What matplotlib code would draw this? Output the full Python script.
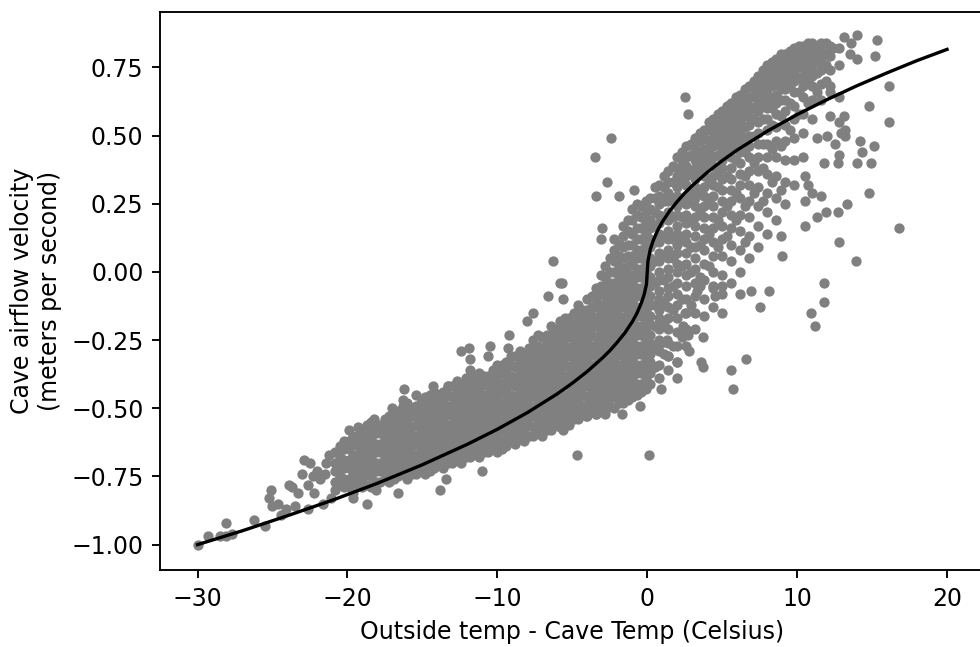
import numpy as np
import matplotlib
matplotlib.use("Agg")
import matplotlib.pyplot as plt

# fitted curve
curve_x = [-30, -27, -24, -21, -18, -15, -12, -10, -8, -6, -5, -4, -3, -2.5, -2, -1.5,
           -1, -0.7, -0.4, -0.2, -0.05, 0.05, 0.2, 0.4, 0.7, 1, 1.5, 2, 2.5, 3, 4, 5, 6,
           8, 10, 12, 14, 16, 18, 20]
curve_y = [-1.000, -0.949, -0.894, -0.837, -0.775, -0.707, -0.632, -0.577, -0.516, -0.447,
           -0.408, -0.365, -0.316, -0.289, -0.258, -0.224, -0.183, -0.153, -0.115, -0.082,
           -0.045, 0.040, 0.082, 0.115, 0.153, 0.183, 0.224, 0.258, 0.289, 0.316, 0.365,
           0.408, 0.447, 0.516, 0.577, 0.632, 0.683, 0.730, 0.775, 0.816]

# dense band of measurements, one column of points per temperature value
band_x = [-20.8, -20.2, -19.6, -19.0, -18.4, -17.8, -17.2, -16.6, -16.0, -15.4, -14.8,
          -14.2, -13.6, -13.0, -12.4, -11.8, -11.2, -10.6, -10.0, -9.4, -8.8, -8.2, -7.6,
          -7.0, -6.4, -5.8, -5.2, -4.6, -4.0, -3.4, -2.8, -2.2, -1.6, -1.0, -0.4, 0.2, 0.8,
          1.4, 2.0, 2.6, 3.2, 3.8, 4.4, 5.0, 5.6, 6.2, 6.8, 7.4, 8.0, 8.6, 9.2, 9.8, 10.4,
          11.0, 11.6, 12.2, 12.8]
band_y = [
    [-0.80, -0.77, -0.73, -0.70, -0.66],
    [-0.79, -0.76, -0.72, -0.69, -0.65, -0.62],
    [-0.81, -0.77, -0.74, -0.70, -0.67, -0.63, -0.60],
    [-0.79, -0.76, -0.72, -0.69, -0.65, -0.62, -0.58],
    [-0.79, -0.75, -0.72, -0.68, -0.65, -0.61, -0.58, -0.55],
    [-0.77, -0.73, -0.70, -0.66, -0.63, -0.59, -0.56],
    [-0.77, -0.74, -0.70, -0.67, -0.63, -0.60, -0.56, -0.53],
    [-0.75, -0.72, -0.68, -0.65, -0.61, -0.58, -0.54, -0.51],
    [-0.76, -0.72, -0.69, -0.65, -0.62, -0.58, -0.55, -0.51, -0.48],
    [-0.74, -0.70, -0.67, -0.63, -0.60, -0.56, -0.53, -0.49],
    [-0.74, -0.71, -0.67, -0.64, -0.60, -0.57, -0.53, -0.50, -0.46],
    [-0.72, -0.69, -0.65, -0.62, -0.58, -0.55, -0.51, -0.48, -0.44],
    [-0.72, -0.68, -0.65, -0.61, -0.58, -0.54, -0.51, -0.47, -0.44],
    [-0.70, -0.67, -0.63, -0.60, -0.56, -0.53, -0.49, -0.46, -0.42],
    [-0.70, -0.66, -0.63, -0.59, -0.56, -0.52, -0.49, -0.45, -0.41],
    [-0.68, -0.65, -0.61, -0.58, -0.54, -0.51, -0.47, -0.44, -0.40],
    [-0.68, -0.64, -0.61, -0.57, -0.54, -0.50, -0.47, -0.43, -0.40, -0.37],
    [-0.66, -0.63, -0.59, -0.56, -0.52, -0.49, -0.45, -0.42, -0.38],
    [-0.66, -0.62, -0.59, -0.55, -0.52, -0.48, -0.45, -0.41, -0.38, -0.34],
    [-0.64, -0.61, -0.57, -0.54, -0.50, -0.47, -0.43, -0.40, -0.36, -0.33],
    [-0.63, -0.60, -0.56, -0.53, -0.49, -0.46, -0.42, -0.39, -0.35, -0.31],
    [-0.62, -0.58, -0.55, -0.51, -0.48, -0.44, -0.41, -0.37, -0.34, -0.30],
    [-0.60, -0.57, -0.53, -0.50, -0.46, -0.43, -0.39, -0.36, -0.32, -0.29, -0.25],
    [-0.60, -0.56, -0.53, -0.49, -0.46, -0.42, -0.39, -0.35, -0.32, -0.28, -0.24],
    [-0.58, -0.55, -0.51, -0.48, -0.44, -0.41, -0.37, -0.34, -0.30, -0.27, -0.23, -0.20],
    [-0.57, -0.54, -0.50, -0.47, -0.43, -0.40, -0.36, -0.33, -0.29, -0.26, -0.22, -0.18],
    [-0.56, -0.52, -0.49, -0.45, -0.42, -0.38, -0.35, -0.31, -0.28, -0.24, -0.21, -0.17],
    [-0.54, -0.51, -0.47, -0.44, -0.40, -0.37, -0.33, -0.30, -0.26, -0.23, -0.19, -0.16, -0.12],
    [-0.53, -0.49, -0.46, -0.42, -0.39, -0.35, -0.32, -0.28, -0.25, -0.21, -0.18, -0.14, -0.10],
    [-0.52, -0.48, -0.45, -0.41, -0.38, -0.34, -0.31, -0.27, -0.24, -0.20, -0.17, -0.13, -0.10,
     -0.06],
    [-0.51, -0.47, -0.44, -0.40, -0.37, -0.33, -0.30, -0.26, -0.23, -0.19, -0.16, -0.12, -0.09,
     -0.05, -0.02, 0.02],
    [-0.50, -0.46, -0.43, -0.39, -0.36, -0.32, -0.29, -0.25, -0.22, -0.18, -0.15, -0.11, -0.08,
     -0.04, 0.00, 0.04, 0.08, 0.12],
    [-0.48, -0.45, -0.41, -0.38, -0.34, -0.31, -0.27, -0.24, -0.20, -0.17, -0.13, -0.10, -0.06,
     -0.03, 0.01, 0.05, 0.09, 0.13, 0.17],
    [-0.46, -0.43, -0.39, -0.36, -0.32, -0.29, -0.25, -0.22, -0.18, -0.15, -0.11, -0.08, -0.04,
     -0.01, 0.03, 0.06, 0.10, 0.14, 0.19, 0.23],
    [-0.44, -0.41, -0.37, -0.34, -0.30, -0.27, -0.23, -0.20, -0.16, -0.13, -0.09, -0.06, -0.02,
     0.01, 0.05, 0.08, 0.12, 0.16, 0.20, 0.24],
    [-0.41, -0.37, -0.33, -0.30, -0.26, -0.23, -0.19, -0.16, -0.12, -0.09, -0.05, -0.02, 0.02,
     0.05, 0.09, 0.12, 0.16, 0.19, 0.23, 0.27],
    [-0.39, -0.34, -0.29, -0.25, -0.21, -0.17, -0.14, -0.10, -0.07, -0.03, 0.00, 0.04, 0.07,
     0.11, 0.14, 0.18, 0.21, 0.25, 0.28, 0.32],
    [-0.36, -0.31, -0.26, -0.21, -0.17, -0.13, -0.09, -0.06, -0.02, 0.01, 0.05, 0.08, 0.12,
     0.15, 0.19, 0.22, 0.26, 0.29, 0.33, 0.37],
    [-0.33, -0.27, -0.22, -0.17, -0.12, -0.08, -0.04, 0.00, 0.03, 0.07, 0.10, 0.14, 0.17,
     0.21, 0.24, 0.28, 0.31, 0.35, 0.38, 0.42],
    [-0.27, -0.21, -0.15, -0.10, -0.05, -0.01, 0.03, 0.07, 0.11, 0.14, 0.18, 0.21, 0.25,
     0.28, 0.32, 0.35, 0.39, 0.42, 0.46],
    [-0.21, -0.15, -0.09, -0.04, 0.01, 0.05, 0.09, 0.13, 0.17, 0.20, 0.24, 0.27, 0.31,
     0.34, 0.38, 0.41, 0.45, 0.49],
    [-0.16, -0.10, -0.03, 0.03, 0.08, 0.12, 0.16, 0.20, 0.24, 0.28, 0.31, 0.35, 0.38,
     0.42, 0.45, 0.49, 0.52],
    [-0.13, -0.06, 0.00, 0.06, 0.11, 0.16, 0.20, 0.24, 0.28, 0.32, 0.35, 0.39, 0.42,
     0.46, 0.49, 0.53, 0.56],
    [-0.08, -0.01, 0.06, 0.12, 0.17, 0.22, 0.26, 0.30, 0.34, 0.38, 0.41, 0.45, 0.48,
     0.52, 0.55, 0.59],
    [-0.04, 0.04, 0.10, 0.16, 0.21, 0.26, 0.30, 0.34, 0.38, 0.42, 0.45, 0.49, 0.52,
     0.56, 0.59, 0.62],
    [0.00, 0.08, 0.15, 0.21, 0.27, 0.32, 0.36, 0.40, 0.44, 0.48, 0.51, 0.55, 0.58, 0.62, 0.65],
    [0.05, 0.13, 0.20, 0.26, 0.32, 0.37, 0.42, 0.46, 0.50, 0.54, 0.57, 0.61, 0.64, 0.68],
    [0.09, 0.17, 0.24, 0.31, 0.37, 0.42, 0.47, 0.51, 0.55, 0.59, 0.62, 0.66, 0.69, 0.72],
    [0.14, 0.22, 0.29, 0.36, 0.42, 0.47, 0.52, 0.56, 0.60, 0.63, 0.67, 0.70, 0.73, 0.76],
    [0.19, 0.27, 0.35, 0.42, 0.48, 0.53, 0.58, 0.62, 0.65, 0.69, 0.72, 0.75, 0.78],
    [0.25, 0.33, 0.41, 0.48, 0.54, 0.59, 0.63, 0.67, 0.70, 0.74, 0.77, 0.80],
    [0.32, 0.41, 0.49, 0.56, 0.61, 0.66, 0.70, 0.73, 0.76, 0.79, 0.82],
    [0.42, 0.51, 0.58, 0.64, 0.68, 0.72, 0.75, 0.78, 0.81, 0.83],
    [0.56, 0.63, 0.68, 0.72, 0.76, 0.79, 0.82, 0.84],
    [0.63, 0.69, 0.74, 0.78, 0.81, 0.84],
    [0.68, 0.74, 0.79, 0.83],
    [0.76, 0.82],
]

# points lying between the band columns
fill_x = [-20.5, -19.9, -19.3, -18.7, -18.1, -17.5, -16.9, -16.3, -15.7, -15.1, -14.5,
          -13.9, -13.3, -12.7, -12.1, -11.5, -10.9, -10.3, -9.7, -9.1, -8.5, -7.9, -7.3,
          -6.7, -6.1, -5.5, -4.9, -4.3, -3.7, -3.1, -2.5, -1.9, -1.3, -0.7, -0.1, 0.5, 1.1,
          1.7, 2.3, 2.9, 3.5, 4.1, 4.7, 5.3, 5.9, 6.5, 7.1, 7.7, 8.3, 8.9, 9.5, 10.1, 10.7,
          11.3, 11.9]
fill_y = [
    [-0.78, -0.75, -0.71, -0.68, -0.64],
    [-0.79, -0.76, -0.72, -0.69, -0.65, -0.62],
    [-0.78, -0.74, -0.71, -0.67, -0.64, -0.60, -0.57],
    [-0.78, -0.74, -0.70, -0.67, -0.63, -0.60, -0.56],
    [-0.77, -0.73, -0.70, -0.66, -0.63, -0.59, -0.56],
    [-0.76, -0.72, -0.68, -0.65, -0.61, -0.58, -0.54],
    [-0.76, -0.72, -0.69, -0.65, -0.62, -0.58, -0.55, -0.51],
    [-0.74, -0.70, -0.67, -0.63, -0.60, -0.56, -0.53, -0.49],
    [-0.74, -0.71, -0.67, -0.64, -0.60, -0.57, -0.53, -0.50],
    [-0.72, -0.69, -0.65, -0.62, -0.58, -0.55, -0.51, -0.48],
    [-0.73, -0.69, -0.66, -0.62, -0.59, -0.55, -0.52, -0.48, -0.45],
    [-0.70, -0.67, -0.63, -0.60, -0.56, -0.53, -0.49, -0.46],
    [-0.70, -0.66, -0.63, -0.59, -0.56, -0.52, -0.49, -0.45, -0.42],
    [-0.68, -0.65, -0.61, -0.58, -0.54, -0.51, -0.47, -0.44, -0.40],
    [-0.68, -0.64, -0.61, -0.57, -0.54, -0.50, -0.47, -0.43, -0.39],
    [-0.66, -0.63, -0.59, -0.56, -0.52, -0.49, -0.45, -0.42, -0.38],
    [-0.66, -0.62, -0.59, -0.55, -0.52, -0.48, -0.45, -0.41, -0.38],
    [-0.64, -0.61, -0.57, -0.54, -0.50, -0.47, -0.43, -0.40, -0.36],
    [-0.65, -0.62, -0.58, -0.55, -0.51, -0.48, -0.44, -0.41, -0.37, -0.34],
    [-0.62, -0.59, -0.55, -0.52, -0.48, -0.45, -0.41, -0.38, -0.34, -0.31],
    [-0.61, -0.58, -0.54, -0.51, -0.47, -0.44, -0.40, -0.37, -0.33, -0.29],
    [-0.60, -0.56, -0.53, -0.49, -0.46, -0.42, -0.39, -0.35, -0.32, -0.28],
    [-0.58, -0.55, -0.51, -0.48, -0.44, -0.41, -0.37, -0.34, -0.30, -0.27, -0.23],
    [-0.58, -0.54, -0.51, -0.47, -0.44, -0.40, -0.37, -0.33, -0.30, -0.26, -0.23],
    [-0.56, -0.53, -0.49, -0.46, -0.42, -0.39, -0.35, -0.32, -0.28, -0.25, -0.21],
    [-0.55, -0.52, -0.48, -0.45, -0.41, -0.38, -0.34, -0.31, -0.27, -0.24, -0.20, -0.17],
    [-0.54, -0.50, -0.47, -0.43, -0.40, -0.36, -0.33, -0.29, -0.26, -0.22, -0.19, -0.15],
    [-0.52, -0.49, -0.45, -0.42, -0.38, -0.35, -0.31, -0.28, -0.24, -0.21, -0.17, -0.14],
    [-0.51, -0.48, -0.44, -0.41, -0.37, -0.34, -0.30, -0.27, -0.23, -0.20, -0.16, -0.13,
     -0.09],
    [-0.50, -0.47, -0.43, -0.40, -0.36, -0.33, -0.29, -0.26, -0.22, -0.19, -0.15, -0.12,
     -0.08, -0.05, -0.01],
    [-0.49, -0.46, -0.42, -0.39, -0.35, -0.32, -0.28, -0.25, -0.21, -0.18, -0.14, -0.11,
     -0.07, -0.04, 0.00, 0.05],
    [-0.48, -0.44, -0.41, -0.37, -0.34, -0.30, -0.27, -0.23, -0.20, -0.16, -0.13, -0.09,
     -0.06, -0.02, 0.02, 0.06, 0.10],
    [-0.47, -0.43, -0.40, -0.36, -0.33, -0.29, -0.26, -0.22, -0.19, -0.15, -0.12, -0.08,
     -0.05, -0.01, 0.02, 0.06, 0.10, 0.15, 0.19],
    [-0.45, -0.41, -0.37, -0.34, -0.30, -0.27, -0.23, -0.20, -0.16, -0.13, -0.09, -0.06,
     -0.02, 0.01, 0.05, 0.08, 0.12, 0.16, 0.21, 0.25],
    [-0.43, -0.39, -0.35, -0.32, -0.28, -0.25, -0.21, -0.18, -0.14, -0.11, -0.07, -0.04,
     0.00, 0.03, 0.07, 0.10, 0.14, 0.18, 0.22, 0.26],
    [-0.35, -0.28, -0.20, -0.12, -0.04, 0.04, 0.11, 0.17, 0.22, 0.27, 0.31],
    [-0.30, -0.19, -0.11, -0.03, 0.06, 0.13, 0.20, 0.26, 0.31, 0.35],
    [-0.27, -0.14, -0.05, 0.05, 0.12, 0.20, 0.27, 0.33, 0.39],
    [-0.24, -0.10, 0.02, 0.12, 0.20, 0.26, 0.33, 0.37, 0.41, 0.44],
    [-0.12, 0.00, 0.09, 0.19, 0.26, 0.30, 0.37, 0.43, 0.47],
    [-0.02, 0.10, 0.22, 0.29, 0.36, 0.40, 0.44, 0.48, 0.51],
    [0.02, 0.14, 0.26, 0.33, 0.40, 0.44, 0.48, 0.52, 0.55],
    [0.09, 0.19, 0.31, 0.37, 0.43, 0.47, 0.51, 0.54, 0.58],
    [0.13, 0.24, 0.35, 0.43, 0.47, 0.50, 0.54, 0.57, 0.61],
    [0.19, 0.29, 0.41, 0.46, 0.50, 0.54, 0.57, 0.60, 0.64],
    [0.11, 0.24, 0.35, 0.44, 0.49, 0.53, 0.57, 0.60, 0.63, 0.67],
    [0.29, 0.40, 0.50, 0.56, 0.60, 0.64, 0.67, 0.70],
    [0.26, 0.38, 0.47, 0.56, 0.61, 0.65, 0.68, 0.71, 0.74],
    [0.33, 0.45, 0.54, 0.60, 0.64, 0.68, 0.71, 0.74, 0.77],
    [0.30, 0.46, 0.57, 0.63, 0.67, 0.71, 0.74, 0.77, 0.80],
    [0.52, 0.62, 0.68, 0.72, 0.75, 0.78, 0.81],
    [0.58, 0.66, 0.71, 0.75, 0.78, 0.81, 0.83],
    [0.62, 0.70, 0.74, 0.78, 0.81, 0.84],
    [0.66, 0.73, 0.77, 0.80, 0.83],
    [0.70, 0.76, 0.80, 0.84],
]

# scattered points outside the dense band
loose_x = [-30.0, -29.3, -28.5, -28.1, -27.7, -28.1, -26.2, -25.5, -25.1, -25.2, -25.0, -24.6,
           -24.1, -24.4, -23.9, -23.7, -23.5, -23.3, -22.9, -22.5, -23.0, -22.6, -22.6, -22.2,
           -22.0, -21.6, -21.4, -21.2, -21.1, -21.8, -21.5, -22.3, -19.9, -19.6, -18.7, -18.2,
           -18.1, -16.2, -16.3, -15.4, -14.3, -13.3, -17.0, -16.6, -13.8, -13.4, -11.0, -12.4,
           -11.9, -11.8, -11.8, -10.5, -10.6, -9.2, -9.3, -8.0, -7.6, -6.6, -5.7, -5.6, -6.3,
           -5.8, -3.0, -3.1, -1.8, -3.5, -2.4, -2.7, -3.4, -1.9, -0.9, -5.6, -4.7, 0.1, -4.1,
           -3.4, -2.8, -1.7, -0.5, -1.0, 0.9, 2.0, 0.4, 1.4, 2.0, 0.9, 1.3, 2.7, 2.8, 3.7, 3.6,
           3.7, 5.7, 5.6, 6.6, 5.0, 4.5, 5.0, 6.2, 6.9, 7.5, 8.1, 3.3, 3.5, 4.4, 2.5, 2.4, 2.5,
           2.7, 9.0, 8.9, 10.5, 11.3, 11.9, 12.7, 13.3, 12.8, 13.9, 11.8, 11.8, 10.9, 11.2,
           14.8, 16.8, 11.6, 11.0, 10.5, 10.5, 10.7, 11.8, 12.8, 12.7, 13.2, 12.9, 12.5, 12.0,
           11.3, 14.2, 14.3, 15.1, 14.9, 14.0, 12.8, 12.2, 13.1, 12.2, 12.8, 13.2, 16.1, 14.8,
           16.1, 15.3, 15.2, 14.0, 13.1, 14.0, 13.5, 13.6, 12.4]
loose_y = [-1.00, -0.97, -0.97, -0.97, -0.96, -0.92, -0.91, -0.93, -0.80, -0.83, -0.86, -0.85,
           -0.87, -0.89, -0.78, -0.79, -0.86, -0.81, -0.69, -0.70, -0.74, -0.78, -0.87, -0.81,
           -0.73, -0.85, -0.70, -0.67, -0.83, -0.76, -0.74, -0.75, -0.58, -0.83, -0.85, -0.54,
           -0.80, -0.43, -0.47, -0.45, -0.42, -0.42, -0.50, -0.81, -0.80, -0.76, -0.73, -0.29,
           -0.28, -0.32, -0.36, -0.27, -0.31, -0.23, -0.28, -0.18, -0.15, -0.09, -0.04, -0.10,
           0.04, -0.04, 0.16, 0.12, 0.10, 0.42, 0.49, 0.33, 0.28, 0.28, 0.30, -0.58, -0.67,
           -0.67, -0.53, -0.52, -0.52, -0.52, -0.49, -0.45, -0.43, -0.39, -0.35, -0.31, -0.33,
           -0.26, -0.25, -0.23, -0.29, -0.35, -0.33, -0.24, -0.43, -0.36, -0.32, -0.15, -0.09,
           -0.05, -0.08, -0.07, -0.13, -0.07, -0.07, -0.05, -0.05, -0.15, -0.20, 0.64, 0.58,
           0.06, 0.13, 0.17, 0.20, 0.22, 0.22, 0.25, 0.11, 0.04, -0.04, -0.11, -0.15, -0.20,
           0.29, 0.16, 0.28, 0.29, 0.26, 0.35, 0.32, 0.40, 0.43, 0.40, 0.50, 0.51, 0.47, 0.50,
           0.49, 0.48, 0.44, 0.46, 0.40, 0.40, 0.64, 0.66, 0.57, 0.57, 0.55, 0.52, 0.68, 0.61,
           0.55, 0.85, 0.79, 0.87, 0.86, 0.78, 0.80, 0.84, 0.82]

xs = list(loose_x)
ys = list(loose_y)
for cols_x, cols_y in [(band_x, band_y), (fill_x, fill_y)]:
    for x, col in zip(cols_x, cols_y):
        xs += [x] * len(col)
        ys += col

fig = plt.figure(figsize=(9.8, 6.47), dpi=100)
ax = fig.add_axes([0.1633, 0.119, 0.8413, 0.8624])
ax.scatter(xs, ys, s=55, color="gray", linewidths=0, zorder=1)
ax.plot(curve_x, curve_y, color="black", linewidth=2.4, zorder=2)
ax.set_xlim(-32.5, 22.5)
ax.set_ylim(-1.093, 0.953)
ax.set_yticks([-1.0, -0.75, -0.5, -0.25, 0.0, 0.25, 0.5, 0.75])
for sp in ax.spines.values():
    sp.set_linewidth(1.36)
ax.tick_params(labelsize=17, length=5.95, width=1.36, pad=5.95)
ax.set_xlabel("Outside temp - Cave Temp (Celsius)", fontsize=17, labelpad=6.8)
ax.set_ylabel("Cave airflow velocity\n(meters per second)", fontsize=17, labelpad=6.8)
fig.savefig("out.png", dpi=100)
